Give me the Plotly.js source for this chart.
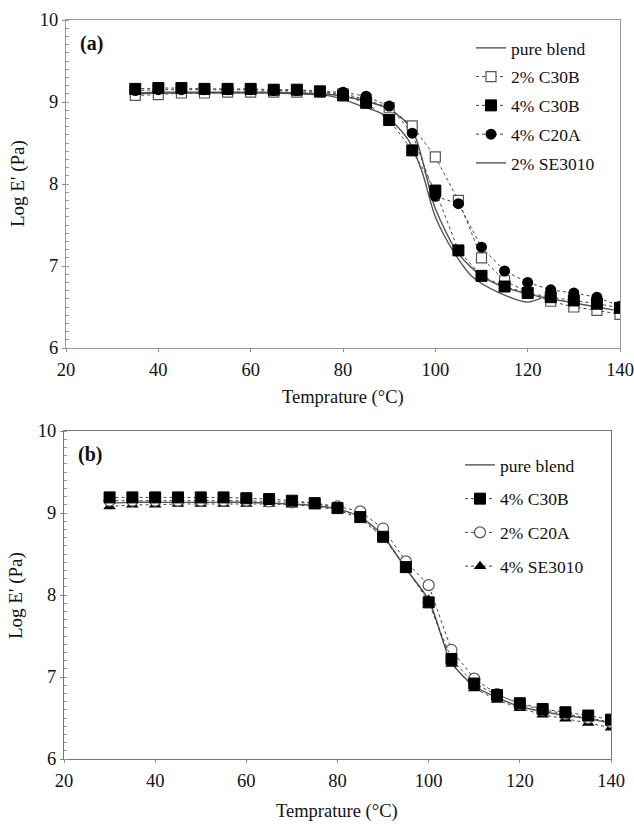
<!DOCTYPE html>
<html>
<head>
<meta charset="utf-8">
<script src="https://cdn.plot.ly/plotly-3.0.1.min.js"></script>
<style>html,body{margin:0;padding:0;background:#fff;}#chart{width:634px;height:830px;}</style>
</head>
<body>
<div id="chart"></div>
<script>
// ---------- Panel (a) ----------
const tempA = [35,40,45,50,55,60,65,70,75,80,85,90,95,100,105,110,115,120,125,130,135,140];
const a_c30b2 = [9.08,9.09,9.11,9.11,9.12,9.12,9.12,9.12,9.12,9.10,9.03,8.93,8.71,8.33,7.80,7.10,6.82,6.68,6.57,6.50,6.46,6.41];
const a_c30b4 = [9.16,9.17,9.17,9.16,9.16,9.16,9.15,9.15,9.13,9.08,8.99,8.78,8.41,7.92,7.19,6.88,6.75,6.67,6.62,6.58,6.54,6.49];
const a_c20a4 = [9.14,9.15,9.15,9.15,9.15,9.15,9.14,9.14,9.13,9.12,9.07,8.95,8.62,7.85,7.76,7.23,6.94,6.80,6.71,6.67,6.62,6.51];
const a_pureT = [35,40,45,50,55,60,65,70,75,80,85,90,95,100,105,110,115,120,125,130,135,140];
const a_pure  = [9.11,9.12,9.12,9.12,9.12,9.12,9.12,9.11,9.10,9.07,9.01,8.91,8.66,7.70,7.15,6.88,6.74,6.66,6.60,6.55,6.50,6.45];
const a_se2T  = [35,40,45,50,55,60,65,70,75,79,84,89,94,97,100,104,108,114,120,123];
const a_se2   = [9.10,9.11,9.11,9.11,9.11,9.11,9.11,9.10,9.09,9.05,8.95,8.84,8.55,8.17,7.60,7.17,6.87,6.67,6.56,6.61];

// ---------- Panel (b) ----------
const tempB = [30,35,40,45,50,55,60,65,70,75,80,85,90,95,100,105,110,115,120,125,130,135,140];
const b_pure   = [9.12,9.13,9.13,9.13,9.13,9.13,9.13,9.12,9.11,9.09,9.05,8.95,8.72,8.32,7.94,7.18,6.89,6.75,6.64,6.58,6.53,6.49,6.44];
const b_c30b4  = [9.19,9.19,9.19,9.19,9.19,9.19,9.18,9.17,9.15,9.12,9.06,8.95,8.71,8.34,7.91,7.22,6.92,6.78,6.68,6.61,6.57,6.53,6.48];
const b_c20a2  = [9.15,9.15,9.15,9.15,9.15,9.15,9.15,9.14,9.13,9.12,9.08,9.02,8.81,8.41,8.12,7.33,6.98,6.79,6.67,6.60,6.55,6.50,6.45];
const b_se4    = [9.08,9.10,9.10,9.11,9.11,9.11,9.11,9.11,9.10,9.08,9.04,8.93,8.71,8.32,7.94,7.16,6.86,6.72,6.62,6.54,6.49,6.44,6.38];

const xTicks = [20,40,60,80,100,120,140];
const yTicks = [6,7,8,9,10];
const xTitle = 'Temprature (°C)';
const yTitle = "Log E' (Pa)";

const FONT = '"Liberation Serif", serif';
const dotLine = {color:'#444', width:1, dash:'dot'};
const solidLine = {color:'#555', width:1.4, shape:'spline', smoothing:0.8};
const filledSq = {symbol:'square', size:11, color:'#000', line:{color:'#000', width:1}};

const traces = [
  // panel a
  {x:a_pureT, y:a_pure, name:'pure blend', mode:'lines', line:solidLine, xaxis:'x', yaxis:'y', legend:'legend', legendgroup:'a1', legendrank:1},
  {x:a_se2T, y:a_se2, name:'2% SE3010', mode:'lines', line:solidLine, xaxis:'x', yaxis:'y', legend:'legend', legendgroup:'a5', legendrank:5},
  {x:tempA, y:a_c30b2, name:'2% C30B', mode:'lines+markers', line:dotLine, marker:{symbol:'square', size:10, color:'#fff', line:{color:'#555', width:1.2}}, xaxis:'x', yaxis:'y', legend:'legend', legendgroup:'a2', legendrank:2},
  {x:tempA, y:a_c20a4, name:'4% C20A', mode:'lines+markers', line:dotLine, marker:{symbol:'circle', size:11, color:'#000'}, xaxis:'x', yaxis:'y', legend:'legend', legendgroup:'a4', legendrank:4},
  {x:tempA, y:a_c30b4, name:'4% C30B', mode:'lines+markers', line:dotLine, marker:filledSq, xaxis:'x', yaxis:'y', legend:'legend', legendgroup:'a3', legendrank:3},
  // panel b
  {x:tempB, y:b_pure, name:'pure blend', mode:'lines', line:solidLine, xaxis:'x2', yaxis:'y2', legend:'legend2', legendgroup:'b1', legendrank:1},
  {x:tempB, y:b_se4, name:'4% SE3010', mode:'lines+markers', line:dotLine, marker:{symbol:'triangle-up', size:11, color:'#000'}, xaxis:'x2', yaxis:'y2', legend:'legend2', legendgroup:'b4', legendrank:4},
  {x:tempB, y:b_c20a2, name:'2% C20A', mode:'lines+markers', line:dotLine, marker:{symbol:'circle', size:11, color:'#fff', line:{color:'#555', width:1.2}}, xaxis:'x2', yaxis:'y2', legend:'legend2', legendgroup:'b3', legendrank:3},
  {x:tempB, y:b_c30b4, name:'4% C30B', mode:'lines+markers', line:dotLine, marker:filledSq, xaxis:'x2', yaxis:'y2', legend:'legend2', legendgroup:'b2', legendrank:2}
];

function xax(domain, anchor, lc){
  return {domain:domain, anchor:anchor, range:[20,140], tickvals:xTicks, ticktext:xTicks.map(String),
    showgrid:false, zeroline:false, showline:true, linecolor:lc, linewidth:1, mirror:true,
    ticks:'outside', ticklen:3, tickcolor:'#888', ticklabelstandoff:2, ticklabeloverflow:'allow',
    tickfont:{family:FONT, size:18.5, color:'#111'}, automargin:false};
}
function yax(domain, anchor, lc){
  return {domain:domain, anchor:anchor, range:[6,10], tickvals:yTicks, ticktext:yTicks.map(String),
    showgrid:false, zeroline:false, showline:true, linecolor:lc, linewidth:1, mirror:true,
    ticks:'outside', ticklen:3, tickcolor:'#888', ticklabelstandoff:0,
    tickfont:{family:FONT, size:18.5, color:'#111'},
    minor:{dtick:0.1, ticks:'inside', ticklen:3, tickcolor:'#999', showgrid:false}, automargin:false};
}
function leg(x, y, gap){
  return {x:x, y:y, xanchor:'left', yanchor:'top', bgcolor:'rgba(0,0,0,0)', borderwidth:0,
    font:{family:FONT, size:17.5, color:'#111'}, tracegroupgap:gap, itemwidth:30};
}

const layout = {
  width:634, height:830, margin:{l:0, r:0, t:0, b:0},
  paper_bgcolor:'#fff', plot_bgcolor:'#fff', showlegend:true,
  font:{family:FONT, color:'#111'},
  xaxis: xax([66/634, 620/634], 'y', '#999'),
  yaxis: yax([1-348/830, 1-20/830], 'x', '#999'),
  xaxis2: xax([64/634, 611/634], 'y2', '#777'),
  yaxis2: yax([1-759/830, 1-431/830], 'x2', '#777'),
  legend: leg(471/634, 1-30/830, 3),
  legend2: leg(460/634, 1-447/830, 8),
  annotations:[
    {text:'<b>(a)</b>', x:78/634, y:1-43/830, xref:'paper', yref:'paper', xanchor:'left', yanchor:'middle', showarrow:false, font:{family:FONT, size:20, color:'#111'}},
    {text:'<b>(b)</b>', x:76/634, y:1-454/830, xref:'paper', yref:'paper', xanchor:'left', yanchor:'middle', showarrow:false, font:{family:FONT, size:20, color:'#111'}},
    {text:yTitle, x:18/634, y:1-184/830, xref:'paper', yref:'paper', textangle:-90, showarrow:false, xanchor:'center', yanchor:'middle', font:{family:FONT, size:19, color:'#111'}},
    {text:yTitle, x:16/634, y:1-596/830, xref:'paper', yref:'paper', textangle:-90, showarrow:false, xanchor:'center', yanchor:'middle', font:{family:FONT, size:19, color:'#111'}},
    {text:xTitle, x:343/634, y:1-398/830, xref:'paper', yref:'paper', showarrow:false, xanchor:'center', yanchor:'middle', font:{family:FONT, size:18.5, color:'#111'}},
    {text:xTitle, x:337/634, y:1-811/830, xref:'paper', yref:'paper', showarrow:false, xanchor:'center', yanchor:'middle', font:{family:FONT, size:18.5, color:'#111'}}
  ]
};

Plotly.newPlot('chart', traces, layout, {staticPlot:true, displayModeBar:false});
</script>
</body>
</html>
